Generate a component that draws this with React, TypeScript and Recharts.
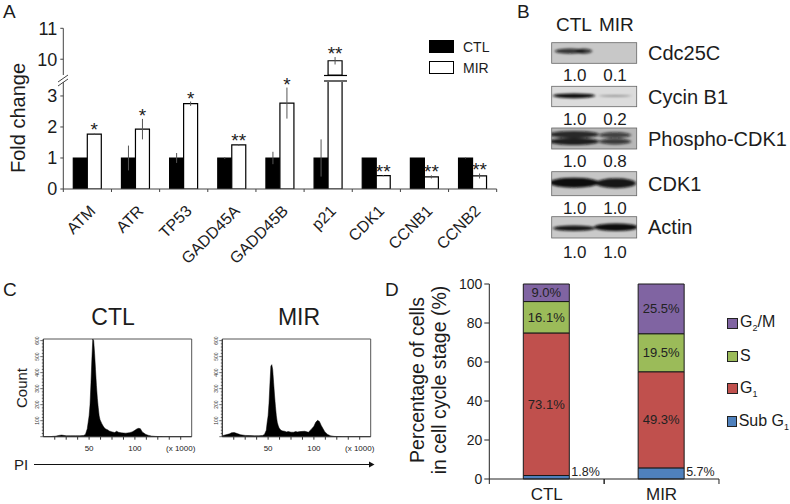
import React from "react";
import {
  Area,
  AreaChart,
  Bar,
  BarChart,
  ErrorBar,
  LabelList,
  Legend,
  ReferenceArea,
  XAxis,
  YAxis,
} from "recharts";

const FONT = '"Liberation Sans", Arial, sans-serif';
const INK = "#1c1c1c";

// panel A
const genes = ["ATM", "ATR", "TP53", "GADD45A", "GADD45B", "p21", "CDK1", "CCNB1", "CCNB2"];
const ctlFold = [1, 1, 1, 1, 1, 1, 1, 1, 1];
const mirFold = [1.77, 1.93, 2.75, 1.42, 2.77, 9.95, 0.43, 0.39, 0.42];
const ctlErr = [0, 0.4, 0.16, 0.03, 0.2, 0.6, 0, 0, 0.02];
const mirErr = [0.02, 0.33, 0.07, 0.03, 0.5, 0.12, 0.02, 0.05, 0.08];
const stars = ["*", "*", "*", "**", "*", "**", "**", "**", "**"];
const lowerDomain = [0, 3.45];
const upperDomain = [9.49, 11];

const lowerData = genes.map((gene, i) => ({
  gene,
  ctl: ctlFold[i],
  mir: mirFold[i],
  ctlErr: ctlErr[i],
  mirErr: mirFold[i] > lowerDomain[1] ? null : mirErr[i],
  star: mirFold[i] > lowerDomain[1] ? "" : stars[i],
}));
const upperData = genes.map((gene, i) => ({
  gene,
  ctl: null,
  mir: mirFold[i] > lowerDomain[1] ? mirFold[i] : null,
  mirErr: mirFold[i] > lowerDomain[1] ? mirErr[i] : null,
  star: stars[i],
}));

// panel B
const blotNames = ["Cdc25C", "Cycin B1", "Phospho-CDK1", "CDK1", "Actin"];
const blotCtl = ["1.0", "1.0", "1.0", "1.0", "1.0"];
const blotMir = ["0.1", "0.2", "0.8", "1.0", "1.0"];
const blotBack = ["#c8c8c8", "#dcdcdc", "#b8b8b8", "#c6c6c6", "#cacaca"];

// panel C, counts read along the PI axis
const piValues = [0, 8, 10, 13, 17, 20, 25, 30, 35, 40, 44, 46, 48, 49, 50, 51, 52, 53, 54, 55, 56, 57, 58, 59, 60, 61, 62, 64, 66, 68, 70, 72, 75, 78, 80, 82, 85, 90, 94, 97, 100, 102, 104, 106, 108, 110, 112, 115, 118, 122, 130];
const ctlCounts = [0, 0, 2, 3, 8, 10, 6, 6, 6, 6, 8, 14, 50, 90, 130, 200, 330, 480, 610, 600, 520, 420, 320, 240, 180, 130, 105, 80, 60, 48, 44, 36, 30, 26, 34, 28, 24, 22, 25, 30, 40, 48, 52, 50, 30, 22, 14, 8, 4, 2, 0];
const mirCounts = [6, 18, 24, 26, 18, 12, 8, 7, 6, 6, 8, 14, 40, 90, 130, 210, 330, 440, 450, 420, 340, 260, 190, 130, 90, 70, 55, 40, 36, 34, 30, 32, 28, 28, 32, 30, 32, 34, 28, 45, 65, 90, 102, 95, 70, 50, 30, 14, 6, 2, 0];
const histTicksX = [12.5, 25, 37.5, 50, 62.5, 75, 87.5, 100, 112.5, 125, 137.5, 150];
const histTicksY = [0, 20, 40, 60, 80, 100, 120, 140, 160, 180, 200, 220, 240, 260, 280, 300, 320, 340, 360, 380, 400, 420, 440, 460, 480, 500, 520, 540, 560, 580, 600];
const histData = piValues.map((pi, i) => ({ pi, ctl: ctlCounts[i], mir: mirCounts[i] }));

// panel D
const arms = ["CTL", "MIR"];
const subG1 = [1.8, 5.7];
const g1 = [73.1, 49.3];
const sPhase = [16.1, 19.5];
const g2m = [9.0, 25.5];
const stageOrder = ["g2m", "s", "g1", "subG1"];
const stageData = arms.map((arm, i) => ({
  arm,
  subG1: subG1[i],
  g1: g1[i],
  s: sPhase[i],
  g2m: g2m[i],
}));
const stageLabels: Record<string, React.ReactNode> = {
  g2m: <>G<sub style={{ fontSize: 9 }}>2</sub>/M</>,
  s: "S",
  g1: <>G<sub style={{ fontSize: 9 }}>1</sub></>,
  subG1: <>Sub G<sub style={{ fontSize: 9 }}>1</sub></>,
};

const pct = (v: number) => `${v.toFixed(1)}%`;

function geneTick({ x, y, payload }: any) {
  const half = 24.05;
  return (
    <g>
      <line x1={x - half} x2={x - half} y1={y} y2={y + 3} stroke="#444" />
      {payload.value === genes[genes.length - 1] && (
        <line x1={x + half} x2={x + half} y1={y} y2={y + 3} stroke="#444" />
      )}
      <text
        x={x + 9}
        y={y + 23}
        textAnchor="end"
        fontSize={16}
        fill={INK}
        transform={`rotate(-45 ${x + 9} ${y + 23})`}
      >
        {payload.value}
      </text>
    </g>
  );
}

function armTick({ x, y, payload }: any) {
  const half = 57.4;
  return (
    <g>
      <line x1={x - half} x2={x - half} y1={y} y2={y + 5} stroke="#222" />
      <line x1={x + half} x2={x + half} y1={y} y2={y + 5} stroke="#222" />
      <text x={x} y={y + 21} textAnchor="middle" fontSize={17} fill={INK}>
        {payload.value}
      </text>
    </g>
  );
}

function histCountTick({ x, y, payload }: any) {
  const major = payload.value % 100 === 0;
  return (
    <g>
      <line x1={x - (major ? 3 : 1.5)} x2={x} y1={y} y2={y} stroke="#333" strokeWidth={0.7} />
      {major && payload.value > 0 && (
        <text x={x - 4} y={y} fontSize={5} textAnchor="middle" fill="#333" transform={`rotate(-90 ${x - 4} ${y})`}>
          {payload.value}
        </text>
      )}
    </g>
  );
}

function starLabel(pxPerUnit: number, lift: number) {
  return ({ x, y, width, index, value }: any) => {
    if (!value) return null;
    const err = mirErr[index] * pxPerUnit;
    return (
      <text x={x + width / 2} y={y - err + lift} textAnchor="middle" fontSize={19} fill={INK}>
        {value}
      </text>
    );
  };
}

function FoldLegend({ payload }: any) {
  return (
    <div style={{ fontSize: 14, color: INK }}>
      {(payload || []).map((item: any) => (
        <div key={item.value} style={{ display: "flex", alignItems: "center", height: 21 }}>
          <span
            style={{
              width: 23,
              height: 11,
              marginRight: 9,
              background: item.value === "CTL" ? "#000" : "#fff",
              border: "1px solid #000",
            }}
          />
          {item.value}
        </div>
      ))}
    </div>
  );
}

function StageLegend({ payload }: any) {
  const items = stageOrder
    .map((key) => (payload || []).find((p: any) => p.dataKey === key))
    .filter(Boolean);
  return (
    <div style={{ fontSize: 16, color: INK }}>
      {items.map((item: any) => (
        <div key={item.dataKey} style={{ display: "flex", alignItems: "center", height: 32.8, whiteSpace: "nowrap" }}>
          <span
            style={{
              width: 9,
              height: 9,
              marginRight: 2,
              background: item.color,
              border: "1px solid #222",
            }}
          />
          <span>{stageLabels[item.dataKey]}</span>
        </div>
      ))}
    </div>
  );
}

function FoldChart() {
  const shared = { stroke: "#000", strokeWidth: 1.2, barSize: 14, isAnimationActive: false };
  return (
    <>
      <div style={{ position: "absolute", left: 0, top: 0 }}>
        <BarChart
          width={520}
          height={270}
          data={lowerData}
          barGap={0}
          margin={{ top: 82, right: 23.3, bottom: 11, left: 23.3 }}
        >
          <XAxis
            dataKey="gene"
            height={70}
            tick={geneTick}
            tickLine={false}
            tickSize={0}
            tickMargin={0}
            interval={0}
            stroke="#444"
          />
          <YAxis
            width={40}
            domain={lowerDomain}
            ticks={[0, 1, 2, 3]}
            allowDataOverflow
            tickSize={3}
            tickMargin={3}
            stroke="#444"
            tick={{ fontSize: 18, fill: INK }}
          />
          <Bar dataKey="ctl" fill="#000" {...shared}>
            <ErrorBar dataKey="ctlErr" width={0} stroke="#555" strokeWidth={1} />
          </Bar>
          <Bar dataKey="mir" fill="#fff" {...shared}>
            <ErrorBar dataKey="mirErr" width={0} stroke="#555" strokeWidth={1} />
            <LabelList dataKey="star" content={starLabel(31, 3)} />
          </Bar>
        </BarChart>
      </div>
      <div style={{ position: "absolute", left: 0, top: 0 }}>
        <BarChart
          width={520}
          height={76}
          data={upperData}
          barGap={0}
          margin={{ top: 28.3, right: 23.3, bottom: 1, left: 23.3 }}
        >
          <XAxis dataKey="gene" hide />
          <YAxis
            width={40}
            domain={upperDomain}
            ticks={[10, 11]}
            allowDataOverflow
            tickSize={3}
            tickMargin={3}
            stroke="#444"
            tick={{ fontSize: 18, fill: INK }}
          />
          <Legend
            layout="vertical"
            align="center"
            verticalAlign="middle"
            content={FoldLegend}
            wrapperStyle={{ left: 429, top: 36, width: 80 }}
          />
          <Bar dataKey="ctl" name="CTL" fill="#000" {...shared} />
          <Bar dataKey="mir" name="MIR" fill="#fff" {...shared}>
            <ErrorBar dataKey="mirErr" width={0} stroke="#555" strokeWidth={1} />
            <LabelList dataKey="star" content={starLabel(31, 0)} />
          </Bar>
        </BarChart>
      </div>
    </>
  );
}

function CellCycleHist({ left, dataKey }: { left: number; dataKey: string }) {
  return (
    <div style={{ position: "absolute", left, top: 329 }}>
      <AreaChart
        width={200}
        height={130}
        data={histData}
        margin={{ top: 10, right: 8.3, bottom: 2.3, left: 13.3 }}
      >
        <XAxis
          dataKey="pi"
          type="number"
          domain={[0, 162]}
          ticks={histTicksX}
          interval={0}
          height={20}
          tickSize={3}
          tickMargin={6}
          stroke="#333"
          tick={{ fontSize: 8, fill: "#222" }}
          tickFormatter={(v: number) => (v === 150 ? "(x 1000)" : v % 50 === 0 ? String(v) : "")}
        />
        <YAxis
          width={30}
          domain={[0, 610]}
          ticks={histTicksY}
          interval={0}
          allowDataOverflow
          stroke="#333"
          tick={histCountTick}
          tickLine={false}
          tickSize={0}
          tickMargin={0}
        />
        <ReferenceArea x1={0} x2={162} y1={0} y2={610} fill="none" stroke="#555" strokeWidth={1} fillOpacity={0} />
        <Area
          dataKey={dataKey}
          type="linear"
          stroke="#000"
          strokeWidth={0.5}
          fill="#000"
          fillOpacity={1}
          isAnimationActive={false}
        />
      </AreaChart>
    </div>
  );
}

function StageChart() {
  const stage = { stackId: "a", stroke: "#1a1a1a", strokeWidth: 1, barSize: 46, isAnimationActive: false };
  const inside = { position: "center" as const, formatter: pct, fontSize: 13, fill: "#222" };
  return (
    <div style={{ position: "absolute", left: 430, top: 270 }}>
      <BarChart
        width={360}
        height={234}
        data={stageData}
        margin={{ top: 14, right: 71, bottom: 0, left: 29.3 }}
      >
        <XAxis
          dataKey="arm"
          height={25}
          tick={armTick}
          tickLine={false}
          tickSize={0}
          tickMargin={0}
          interval={0}
          stroke="#222"
        />
        <YAxis
          width={30}
          domain={[0, 100]}
          ticks={[0, 20, 40, 60, 80, 100]}
          tickSize={5}
          tickMargin={2}
          stroke="#222"
          tick={{ fontSize: 14, fill: INK }}
        />
        <Legend
          layout="vertical"
          align="center"
          verticalAlign="middle"
          content={StageLegend}
          wrapperStyle={{ left: 297, top: 37, width: 62 }}
        />
        <Bar dataKey="subG1" name="Sub G1" fill="#4f81bd" {...stage}>
          <LabelList
            dataKey="subG1"
            content={({ x, y, width, height, value }: any) => (
              <text x={x + width + 2} y={y + height - 3} fontSize={12.5} fill="#222">
                {pct(value)}
              </text>
            )}
          />
        </Bar>
        <Bar dataKey="g1" name="G1" fill="#c0504d" {...stage}>
          <LabelList dataKey="g1" {...inside} />
        </Bar>
        <Bar dataKey="s" name="S" fill="#9bbb59" {...stage}>
          <LabelList dataKey="s" {...inside} />
        </Bar>
        <Bar dataKey="g2m" name="G2/M" fill="#8064a2" {...stage}>
          <LabelList dataKey="g2m" {...inside} />
        </Bar>
      </BarChart>
    </div>
  );
}

// blot rows are pictures, not plotted values
function Blots() {
  const rows = [
    { top: 42.7, h: 20.6, bands: [[570, 8.5, 15, 2.6, 0.8], [584, 8.5, 8, 2.6, 0.75]] },
    { top: 86.3, h: 20.4, bands: [[574, 9.5, 21, 2.4, 1], [615, 9.5, 17, 0.9, 0.35]] },
    { top: 128, h: 21, bands: [[574, 6.5, 25, 3.6, 0.85], [574, 13.5, 25, 3.6, 0.9], [615, 7, 16, 3, 0.7], [615, 13.5, 16, 3, 0.75]] },
    { top: 171.7, h: 24, bands: [[574, 11, 25, 5, 1], [616, 11.5, 20, 5, 0.95]] },
    { top: 216.7, h: 21.3, bands: [[574, 11.5, 21, 2.8, 0.95], [616, 10.5, 22, 3.8, 1]] },
  ];
  return (
    <>
      <defs>
        <filter id="band" x="-30%" y="-100%" width="160%" height="300%">
          <feGaussianBlur stdDeviation="1.4 1.1" />
        </filter>
        {rows.map((r, i) => (
          <clipPath key={i} id={`blot-${i}`}>
            <rect x={551.7} y={r.top} width={85} height={r.h} />
          </clipPath>
        ))}
      </defs>
      {rows.map((r, i) => (
        <g key={blotNames[i]}>
          <rect x={551.7} y={r.top} width={85} height={r.h} fill={blotBack[i]} stroke="#666" strokeWidth={0.8} />
          <g clipPath={`url(#blot-${i})`}>
            <g filter="url(#band)">
              {r.bands.map((b, k) => (
                <ellipse key={k} cx={b[0]} cy={r.top + b[1]} rx={b[2]} ry={b[3]} fill="#0c0c0c" opacity={b[4]} />
              ))}
            </g>
          </g>
          <text x={648} y={r.top + r.h / 2 + 7} fontSize={20} fill={INK}>
            {blotNames[i]}
          </text>
          <text x={574.7} y={r.top + r.h + 18 + (i === 4 ? 2 : 0)} fontSize={17} textAnchor="middle" fill={INK}>
            {blotCtl[i]}
          </text>
          <text x={615} y={r.top + r.h + 18 + (i === 4 ? 2 : 0)} fontSize={17} textAnchor="middle" fill={INK}>
            {blotMir[i]}
          </text>
        </g>
      ))}
    </>
  );
}

function Annotations() {
  return (
    <svg width={790} height={504} style={{ position: "absolute", left: 0, top: 0 }} fontFamily={FONT}>
      <text x={3} y={18} fontSize={19} fill={INK}>A</text>
      <text x={517} y={18} fontSize={19} fill={INK}>B</text>
      <text x={3} y={296} fontSize={19} fill={INK}>C</text>
      <text x={385} y={296} fontSize={19} fill={INK}>D</text>

      <text transform="translate(25 118) rotate(-90)" fontSize={20} textAnchor="middle" fill={INK}>Fold change</text>
      <line x1={58} y1={82} x2={68} y2={75} stroke="#444" />
      <line x1={58} y1={86} x2={68} y2={79} stroke="#444" />
      <line x1={324} y1={75.5} x2={347} y2={75.5} stroke="#000" strokeWidth={1.2} />
      <line x1={324} y1={81} x2={347} y2={81} stroke="#000" strokeWidth={1.2} />

      <text x={556} y={31} fontSize={19} fill={INK}>CTL</text>
      <text x={599} y={31} fontSize={19} fill={INK}>MIR</text>
      <Blots />

      <text x={113} y={325} fontSize={23} textAnchor="middle" fill={INK}>CTL</text>
      <text x={299} y={325} fontSize={23} textAnchor="middle" fill={INK}>MIR</text>
      <text transform="translate(27 388) rotate(-90)" fontSize={15} textAnchor="middle" fill={INK}>Count</text>
      <text x={14} y={470} fontSize={15} fill={INK}>PI</text>
      <line x1={34} y1={464.5} x2={372} y2={464.5} stroke="#111" strokeWidth={1.2} />
      <path d="M369 461.5 L374.5 464.5 L369 467.5 Z" fill="#111" />

      <text transform="translate(424 380) rotate(-90)" fontSize={19.5} textAnchor="middle" fill={INK}>Percentage of cells</text>
      <text transform="translate(446 380) rotate(-90)" fontSize={19.5} textAnchor="middle" fill={INK}>in cell cycle stage (%)</text>
    </svg>
  );
}

export default function App() {
  return (
    <div style={{ position: "absolute", left: 0, top: 0, width: 790, height: 504, background: "#fff", fontFamily: FONT, overflow: "hidden" }}>
      <Annotations />
      <FoldChart />
      <CellCycleHist left={0} dataKey="ctl" />
      <CellCycleHist left={179.4} dataKey="mir" />
      <StageChart />
    </div>
  );
}
